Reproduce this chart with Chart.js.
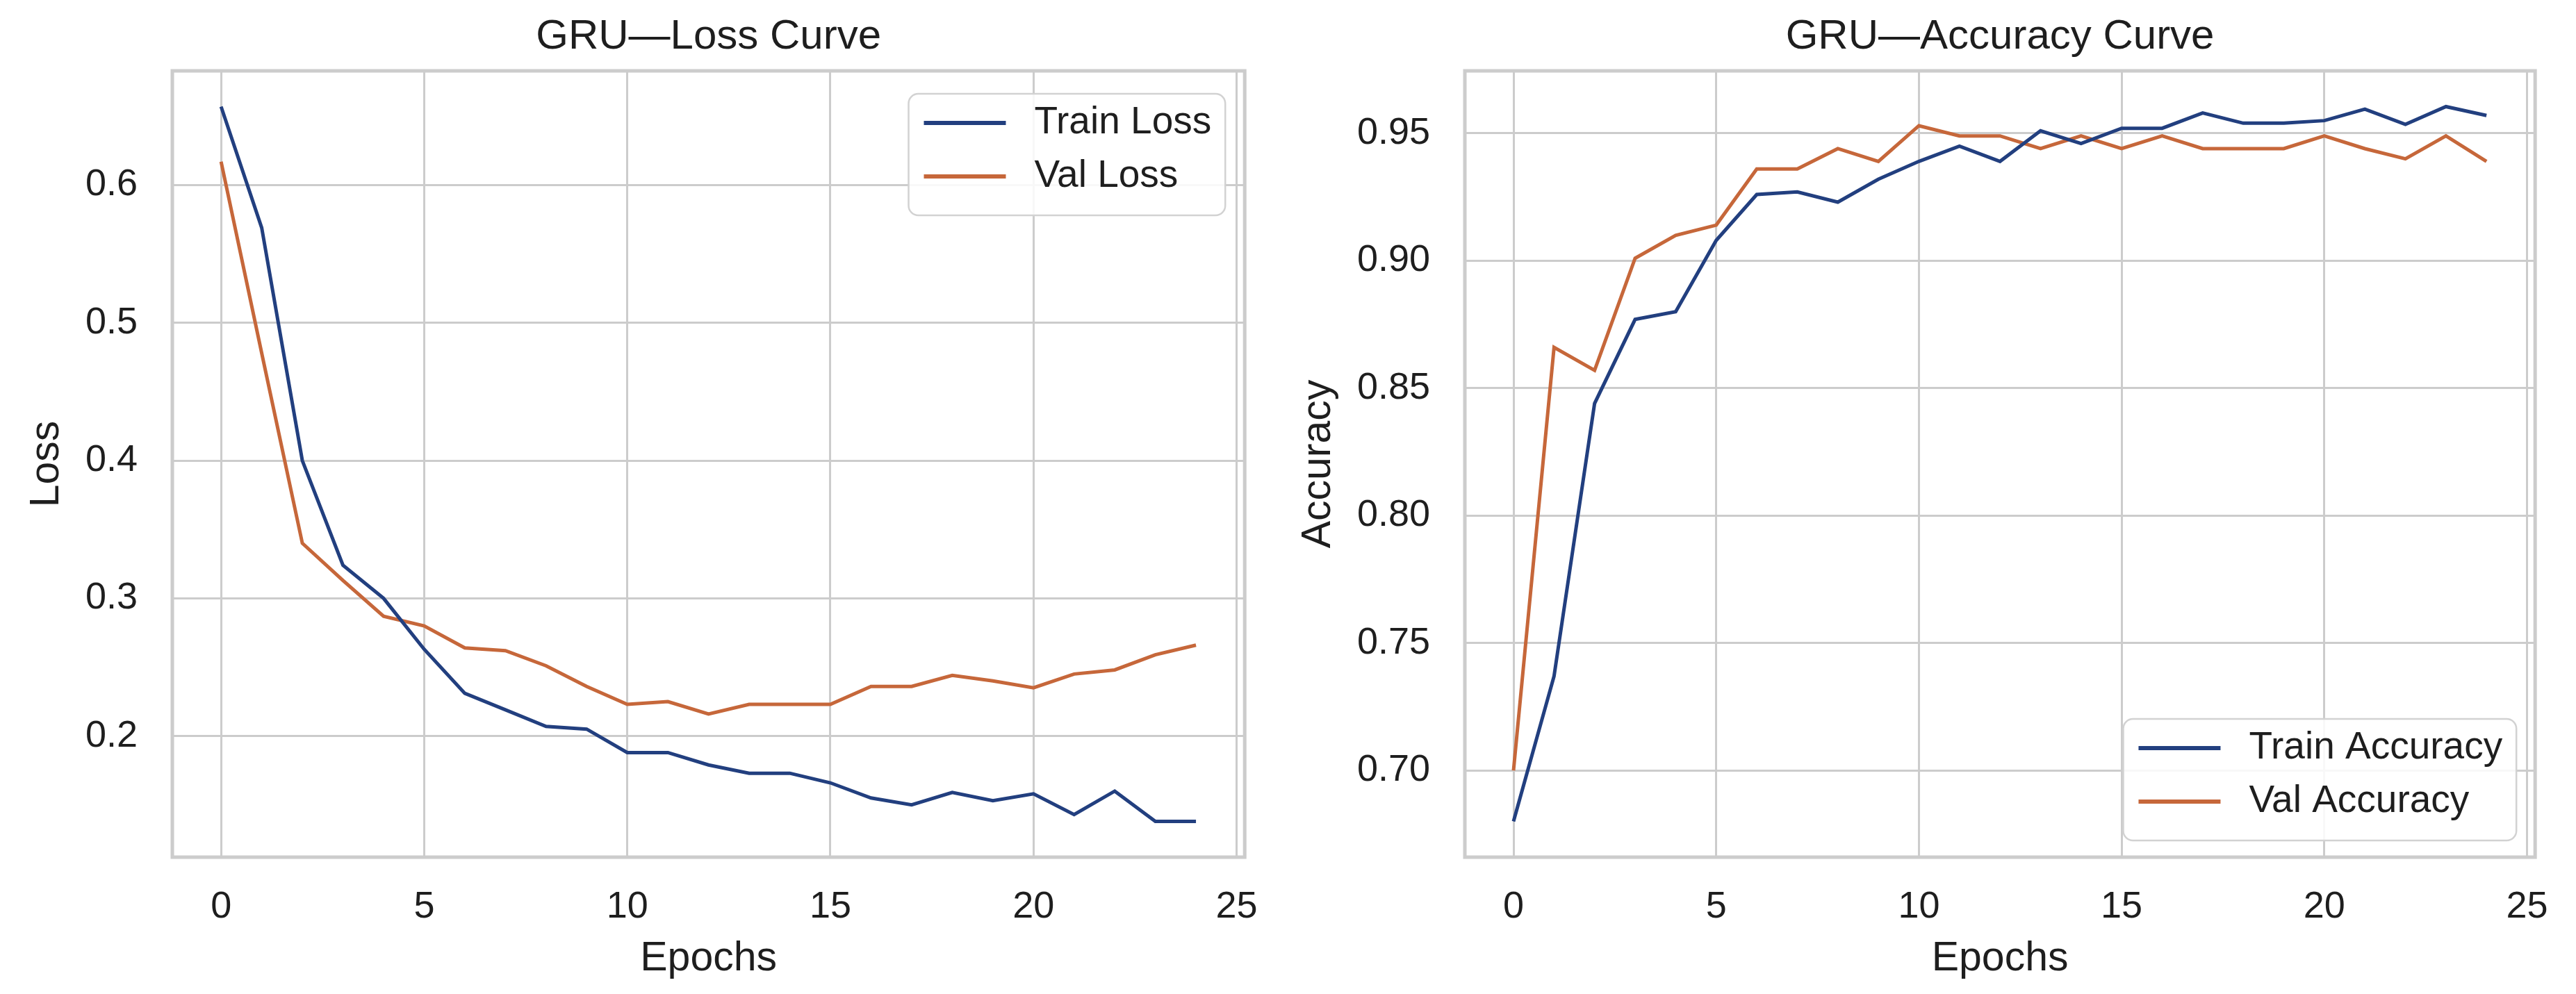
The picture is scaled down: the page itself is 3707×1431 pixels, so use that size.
<!DOCTYPE html>
<html>
<head>
<meta charset="utf-8">
<script src="https://cdn.jsdelivr.net/npm/chart.js@4.4.1/dist/chart.umd.min.js"></script>
<style>
  body { margin: 0; background: #fff; }
  canvas { position: absolute; top: 0; }
</style>
</head>
<body>
<canvas id="loss" width="1850" height="1431" style="left:0;width:1850px;height:1431px"></canvas>
<canvas id="acc" width="1857" height="1431" style="left:1850px;width:1857px;height:1431px"></canvas>
<script>
var epochs = [0, 1, 2, 3, 4, 5, 6, 7, 8, 9, 10, 11, 12, 13, 14, 15, 16, 17, 18, 19, 20, 21, 22, 23, 24]

var trainLoss = [0.657, 0.569, 0.400, 0.324, 0.300, 0.263, 0.231, 0.219, 0.207, 0.205, 0.188, 0.188, 0.179,
                 0.173, 0.173, 0.166, 0.155, 0.150, 0.159, 0.153, 0.158, 0.143, 0.160, 0.138, 0.138]
var valLoss = [0.617, 0.478, 0.340, 0.313, 0.287, 0.280, 0.264, 0.262, 0.251, 0.236, 0.223, 0.225, 0.216,
               0.223, 0.223, 0.223, 0.236, 0.236, 0.244, 0.240, 0.235, 0.245, 0.248, 0.259, 0.266]

var trainAcc = [0.680, 0.737, 0.844, 0.877, 0.880, 0.908, 0.926, 0.927, 0.923, 0.932, 0.939, 0.945, 0.939,
                0.951, 0.946, 0.952, 0.952, 0.958, 0.954, 0.954, 0.955, 0.9595, 0.9535, 0.9605, 0.957]
var valAcc = [0.700, 0.866, 0.857, 0.901, 0.910, 0.914, 0.936, 0.936, 0.944, 0.939, 0.953, 0.949, 0.949,
              0.944, 0.949, 0.944, 0.949, 0.944, 0.944, 0.944, 0.949, 0.944, 0.940, 0.949, 0.939]

var xTicks = [0, 5, 10, 15, 20, 25]
var xTickLabels = ['0', '5', '10', '15', '20', '25']
var lossTicks = [0.2, 0.3, 0.4, 0.5, 0.6]
var lossTickLabels = ['0.2', '0.3', '0.4', '0.5', '0.6']
var accTicks = [0.70, 0.75, 0.80, 0.85, 0.90, 0.95]
var accTickLabels = ['0.70', '0.75', '0.80', '0.85', '0.90', '0.95']

var BLUE = '#223f7f'
var ORANGE = '#c6673a'
var FONT = '"Liberation Sans", Arial, sans-serif'
var TEXT = '#1e1e1e'
var GRID = '#cccccc'

// matplotlib-like 5% margins around the data
function margins(lo, hi) {
    var d = (hi - lo) * 0.05
    return [lo - d, hi + d]
}

function points(ys) {
    return epochs.map(function (e, i) { return { x: e, y: ys[i] } })
}

// axes frame (all four spines)
var frame = {
    id: 'frame',
    afterDatasetsDraw: function (chart) {
        var a = chart.chartArea, ctx = chart.ctx
        ctx.save()
        ctx.strokeStyle = GRID
        ctx.lineWidth = 5
        ctx.strokeRect(a.left, a.top, a.right - a.left, a.bottom - a.top)
        ctx.restore()
    }
}

// legend box inside the plot
var boxLegend = {
    id: 'boxLegend',
    afterDraw: function (chart, args, opts) {
        var ctx = chart.ctx, a = chart.chartArea
        var sets = chart.data.datasets
        ctx.save()
        ctx.font = '55px ' + FONT
        var tw = 0
        sets.forEach(function (d) { tw = Math.max(tw, ctx.measureText(d.label).width) })
        var w = 22 + 118 + 41 + tw + 20, h = 175
        var x = a.right - opts.right - w
        var y = opts.corner === 'bottom' ? a.bottom - opts.bottom - h : a.top + opts.top
        ctx.beginPath()
        ctx.roundRect(x, y, w, h, 14)
        ctx.fillStyle = 'rgba(255,255,255,0.85)'
        ctx.fill()
        ctx.strokeStyle = '#d2d2d2'
        ctx.lineWidth = 2.5
        ctx.stroke()
        sets.forEach(function (d, i) {
            var cy = y + 42 + i * 77
            ctx.beginPath()
            ctx.moveTo(x + 22, cy)
            ctx.lineTo(x + 140, cy)
            ctx.strokeStyle = d.borderColor
            ctx.lineWidth = 6
            ctx.stroke()
            ctx.fillStyle = TEXT
            ctx.textBaseline = 'middle'
            ctx.textAlign = 'left'
            ctx.fillText(d.label, x + 181, cy)
        })
        ctx.restore()
    }
}

function makeChart(id, cfg) {
    var xr = margins(epochs[0], epochs[epochs.length - 1])
    var yr = margins(Math.min.apply(null, cfg.a.concat(cfg.b)), Math.max.apply(null, cfg.a.concat(cfg.b)))
    return new Chart(document.getElementById(id), {
        type: 'line',
        data: {
            datasets: [{
                label: cfg.labels[0],
                data: points(cfg.a),
                borderColor: BLUE,
                borderWidth: 5,
                pointRadius: 0,
                tension: 0
            }, {
                label: cfg.labels[1],
                data: points(cfg.b),
                borderColor: ORANGE,
                borderWidth: 5,
                pointRadius: 0,
                tension: 0
            }]
        },
        options: {
            responsive: false,
            animation: false,
            devicePixelRatio: 1,
            layout: { padding: { left: 0, top: 0, right: cfg.padRight, bottom: 0 } },
            plugins: {
                legend: { display: false },
                tooltip: { enabled: false },
                title: {
                    display: true,
                    text: cfg.title,
                    fullSize: false,
                    color: TEXT,
                    font: { family: FONT, size: 60, weight: 'normal' },
                    padding: { top: 17, bottom: 13 }
                },
                boxLegend: cfg.legend
            },
            scales: {
                x: {
                    type: 'linear',
                    min: xr[0],
                    max: xr[1],
                    afterBuildTicks: function (s) { s.ticks = xTicks.map(function (v) { return { value: v } }) },
                    afterFit: function (s) { s.height = 197 },
                    ticks: {
                        autoSkip: false,
                        maxRotation: 0,
                        padding: 40,
                        color: TEXT,
                        font: { family: FONT, size: 54 },
                        callback: function (v, i) { return xTickLabels[i] }
                    },
                    grid: { color: GRID, lineWidth: 3, drawTicks: false },
                    border: { display: false },
                    title: {
                        display: true,
                        text: 'Epochs',
                        color: TEXT,
                        font: { family: FONT, size: 59 },
                        padding: { top: 0, bottom: 15 }
                    }
                },
                y: {
                    min: yr[0],
                    max: yr[1],
                    afterBuildTicks: function (s) { s.ticks = cfg.ticks.map(function (v) { return { value: v } }) },
                    afterFit: function (s) { s.width = cfg.yWidth },
                    ticks: {
                        padding: 50,
                        color: TEXT,
                        font: { family: FONT, size: 54 },
                        callback: function (v, i) { return cfg.tickLabels[i] }
                    },
                    grid: { color: GRID, lineWidth: 3, drawTicks: false },
                    border: { display: false },
                    title: {
                        display: true,
                        text: cfg.yTitle,
                        color: TEXT,
                        font: { family: FONT, size: 59 },
                        padding: { top: cfg.yTitlePad, bottom: 0 }
                    }
                }
            }
        },
        plugins: [frame, boxLegend]
    })
}

makeChart('loss', {
    title: 'GRU\u2014Loss Curve',
    yTitle: 'Loss',
    labels: ['Train Loss', 'Val Loss'],
    a: trainLoss,
    b: valLoss,
    ticks: lossTicks,
    tickLabels: lossTickLabels,
    yWidth: 248,
    yTitlePad: 32,
    padRight: 51,
    legend: { corner: 'top', top: 33, right: 28 }
})

makeChart('acc', {
    title: 'GRU\u2014Accuracy Curve',
    yTitle: 'Accuracy',
    labels: ['Train Accuracy', 'Val Accuracy'],
    a: trainAcc,
    b: valAcc,
    ticks: accTicks,
    tickLabels: accTickLabels,
    yWidth: 258,
    yTitlePad: 12,
    padRight: 45,
    legend: { corner: 'bottom', bottom: 24, right: 27 }
})
</script>
</body>
</html>
